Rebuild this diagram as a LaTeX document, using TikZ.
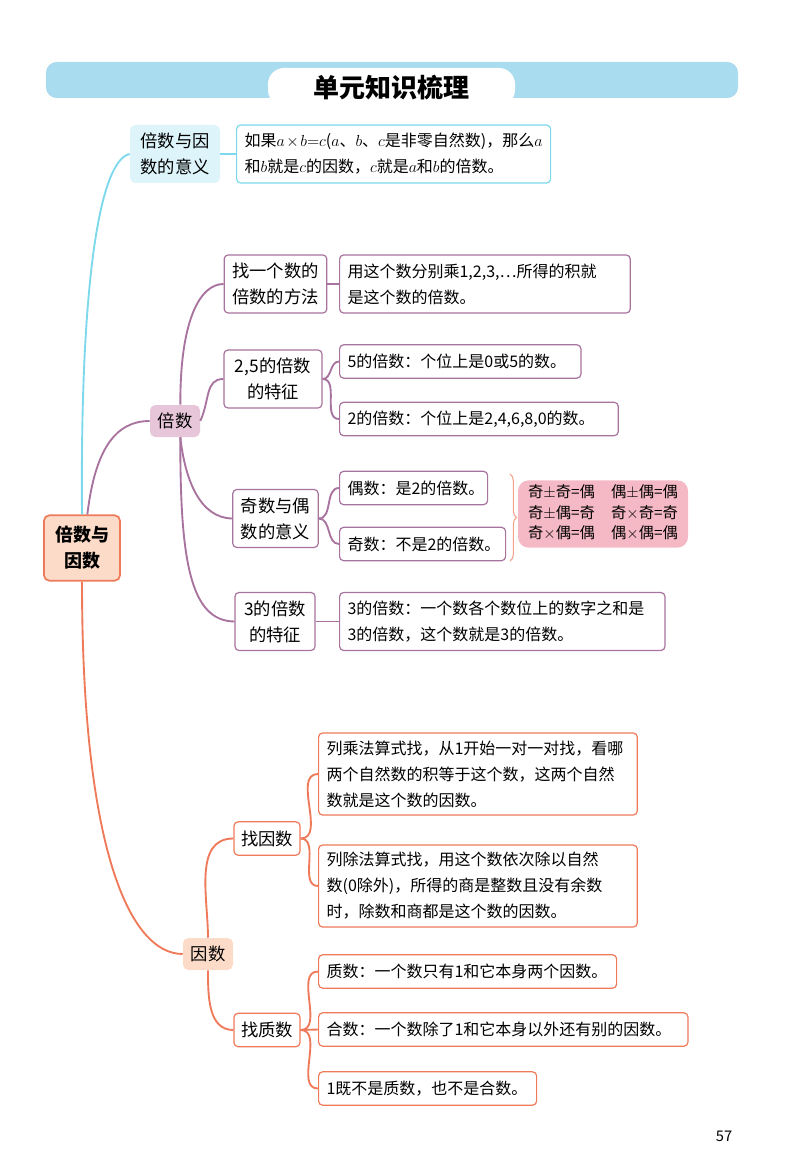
\documentclass[tikz,border=0pt]{standalone}
\usepackage{fontspec}
\setmainfont{Noto Sans CJK SC}
\usetikzlibrary{decorations.pathreplacing}
\definecolor{cyanl}{HTML}{7DD8EC}
\definecolor{cyanf}{HTML}{DDF4FA}
\definecolor{titlebar}{HTML}{A9DCEE}
\definecolor{purl}{HTML}{A8739E}
\definecolor{purf}{HTML}{E8C6DA}
\definecolor{orl}{HTML}{EF7A5A}
\definecolor{orf}{HTML}{FCDCC8}
\definecolor{pinkf}{HTML}{F5B9C6}
\begin{document}
\begin{tikzpicture}[x=0.75pt,y=-0.75pt,
  desc/.style={draw,rounded corners=3pt,line width=0.9pt,fill=white,align=left,anchor=west,inner xsep=6pt,inner ysep=4pt,font=\fontsize{12}{19.5}\selectfont},
  lab/.style={draw,rounded corners=3pt,line width=0.9pt,fill=white,align=center,inner sep=2pt,font=\fontsize{13}{19.5}\selectfont},
  main/.style={rounded corners=4pt,align=center,inner sep=2pt,font=\fontsize{13}{19.5}\selectfont},
  conn/.style={line width=1.4pt}]
\useasboundingbox (0,0) rectangle (800,1176);
% title
\fill[titlebar,rounded corners=8pt] (46,62) rectangle (738,98);
\fill[white,rounded corners=12pt] (268,106) rectangle (515,68);
\node[font=\fontsize{19.5}{22}\selectfont\bfseries] (title) at (391,88) {单元知识梳理};
% main nodes
\node[main,fill=orf,draw=orl,line width=1.3pt,minimum width=57pt,minimum height=49pt,font=\fontsize{13.5}{19.5}\selectfont\bfseries] (root) at (82,548) {倍数与\\因数};
\node[main,fill=cyanf,minimum width=67.5pt,minimum height=43.5pt] (m0) at (175,154) {倍数与因\\数的意义};
\node[main,fill=purf,minimum width=37.5pt,minimum height=24pt] (b) at (175,421) {倍数};
\node[main,fill=orf,minimum width=37.5pt,minimum height=24pt] (y) at (208,954) {因数};
% root connectors
\draw[conn,cyanl] (root.north) .. controls (80,280) and (100,160) .. (m0.west);
\draw[conn,purl] ([xshift=4pt]root.north) .. controls (95,450) and (115,421) .. (b.west);
\draw[conn,orl] (root.south) .. controls (82,850) and (130,954) .. (y.west);
% definition
\node[desc,draw=cyanl,text width=223.5pt,minimum height=43.5pt] (d0) at (236,154) {如果$a\times b{=}c$($a$、$b$、$c$是非零自然数)，那么$a$\\和$b$就是$c$的因数，$c$就是$a$和$b$的倍数。};
\draw[conn,cyanl] (m0.east) -- (d0.west);
% multiples
\node[lab,draw=purl,minimum width=77pt,minimum height=43.5pt] (s1) at (275.5,284) {找一个数的\\倍数的方法};
\node[lab,draw=purl,minimum width=73.5pt,minimum height=43.5pt] (s2) at (273,379) {2,5的倍数\\的特征};
\node[lab,draw=purl,minimum width=64pt,minimum height=43.5pt] (s3) at (275.5,518.5) {奇数与偶\\数的意义};
\node[lab,draw=purl,minimum width=60pt,minimum height=43.5pt] (s4) at (275,621.5) {3的倍数\\的特征};
\draw[conn,purl] ([xshift=4pt]b.north) .. controls (180,320) and (200,284) .. (s1.west);
\draw[conn,purl] (b.east) .. controls (210,400) and (205,379) .. (s2.west);
\draw[conn,purl] ([xshift=4pt]b.south) .. controls (185,480) and (200,518) .. (s3.west);
\draw[conn,purl] ([xshift=4pt]b.south) .. controls (180,560) and (190,621) .. (s4.west);
\node[desc,draw=purl,text width=206pt,minimum height=43.5pt] (d1) at (339,284) {用这个数分别乘1,2,3,…所得的积就\\是这个数的倍数。};
\node[desc,draw=purl,text width=169pt,minimum height=25pt] (d2a) at (339,361.5) {5的倍数：个位上是0或5的数。};
\node[desc,draw=purl,text width=197pt,minimum height=25pt] (d2b) at (339,419) {2的倍数：个位上是2,4,6,8,0的数。};
\node[desc,draw=purl,text width=99pt,minimum height=25pt] (d3a) at (339,488) {偶数：是2的倍数。};
\node[desc,draw=purl,text width=112.5pt,minimum height=25pt] (d3b) at (339,544) {奇数：不是2的倍数。};
\node[desc,draw=purl,text width=232pt,minimum height=43.5pt] (d4) at (339,621.5) {3的倍数：一个数各个数位上的数字之和是\\3的倍数，这个数就是3的倍数。};
\draw[conn,purl] (s1.east) -- (d1.west);
\draw[conn,purl] (s2.east) to[out=0,in=180] (d2a.west);
\draw[conn,purl] (s2.east) to[out=0,in=180] (d2b.west);
\draw[conn,purl] (s3.east) to[out=0,in=180] (d3a.west);
\draw[conn,purl] (s3.east) to[out=0,in=180] (d3b.west);
\draw[conn,purl] (s4.east) -- (d4.west);
\coordinate (bt) at (510,474);
\coordinate (bb) at (510,561);
\draw[line width=0.8pt,orl!70,decorate,decoration={brace,amplitude=5pt}] (bt) -- (bb);
\node[fill=pinkf,rounded corners=8pt,minimum width=127.5pt,minimum height=49.5pt,inner sep=2pt,font=\fontsize{11.5}{15.5}\selectfont] (pk) at (603,514)
 {\begin{tabular}{@{}l@{\hspace{12pt}}l@{}}奇$\pm$奇=偶 & 偶$\pm$偶=偶\\ 奇$\pm$偶=奇 & 奇$\times$奇=奇\\ 奇$\times$偶=偶 & 偶$\times$偶=偶\end{tabular}};
% factors
\node[lab,draw=orl,minimum width=49.5pt,minimum height=25pt] (z1) at (267,838.5) {找因数};
\node[lab,draw=orl,minimum width=49.5pt,minimum height=25pt] (z2) at (267,1030) {找质数};
\draw[conn,orl] (y.north) to[out=90,in=180] (z1.west);
\draw[conn,orl] (y.south) to[out=-90,in=180] (z2.west);
\node[desc,draw=orl,text width=227pt,minimum height=61.5pt] (f1) at (318,774) {列乘法算式找，从1开始一对一对找，看哪\\两个自然数的积等于这个数，这两个自然\\数就是这个数的因数。};
\node[desc,draw=orl,text width=227pt,minimum height=61.5pt] (f2) at (318,886) {列除法算式找，用这个数依次除以自然\\数(0除外)，所得的商是整数且没有余数\\时，除数和商都是这个数的因数。};
\node[desc,draw=orl,text width=211.5pt,minimum height=25pt] (p1) at (318,971.5) {质数：一个数只有1和它本身两个因数。};
\node[desc,draw=orl,text width=265pt,minimum height=25pt] (p2) at (318,1029.5) {合数：一个数除了1和它本身以外还有别的因数。};
\node[desc,draw=orl,text width=151.5pt,minimum height=25pt] (p3) at (318,1088.5) {1既不是质数，也不是合数。};
\draw[conn,orl] (z1.east) to[out=0,in=180] (f1.west);
\draw[conn,orl] (z1.east) to[out=0,in=180] (f2.west);
\draw[conn,orl] (z2.east) to[out=0,in=180] (p1.west);
\draw[conn,orl] (z2.east) -- (p2.west);
\draw[conn,orl] (z2.east) to[out=0,in=180] (p3.west);
\node[font=\fontsize{11}{13}\selectfont] (pg) at (724,1136) {57};
\end{tikzpicture}
\end{document}
